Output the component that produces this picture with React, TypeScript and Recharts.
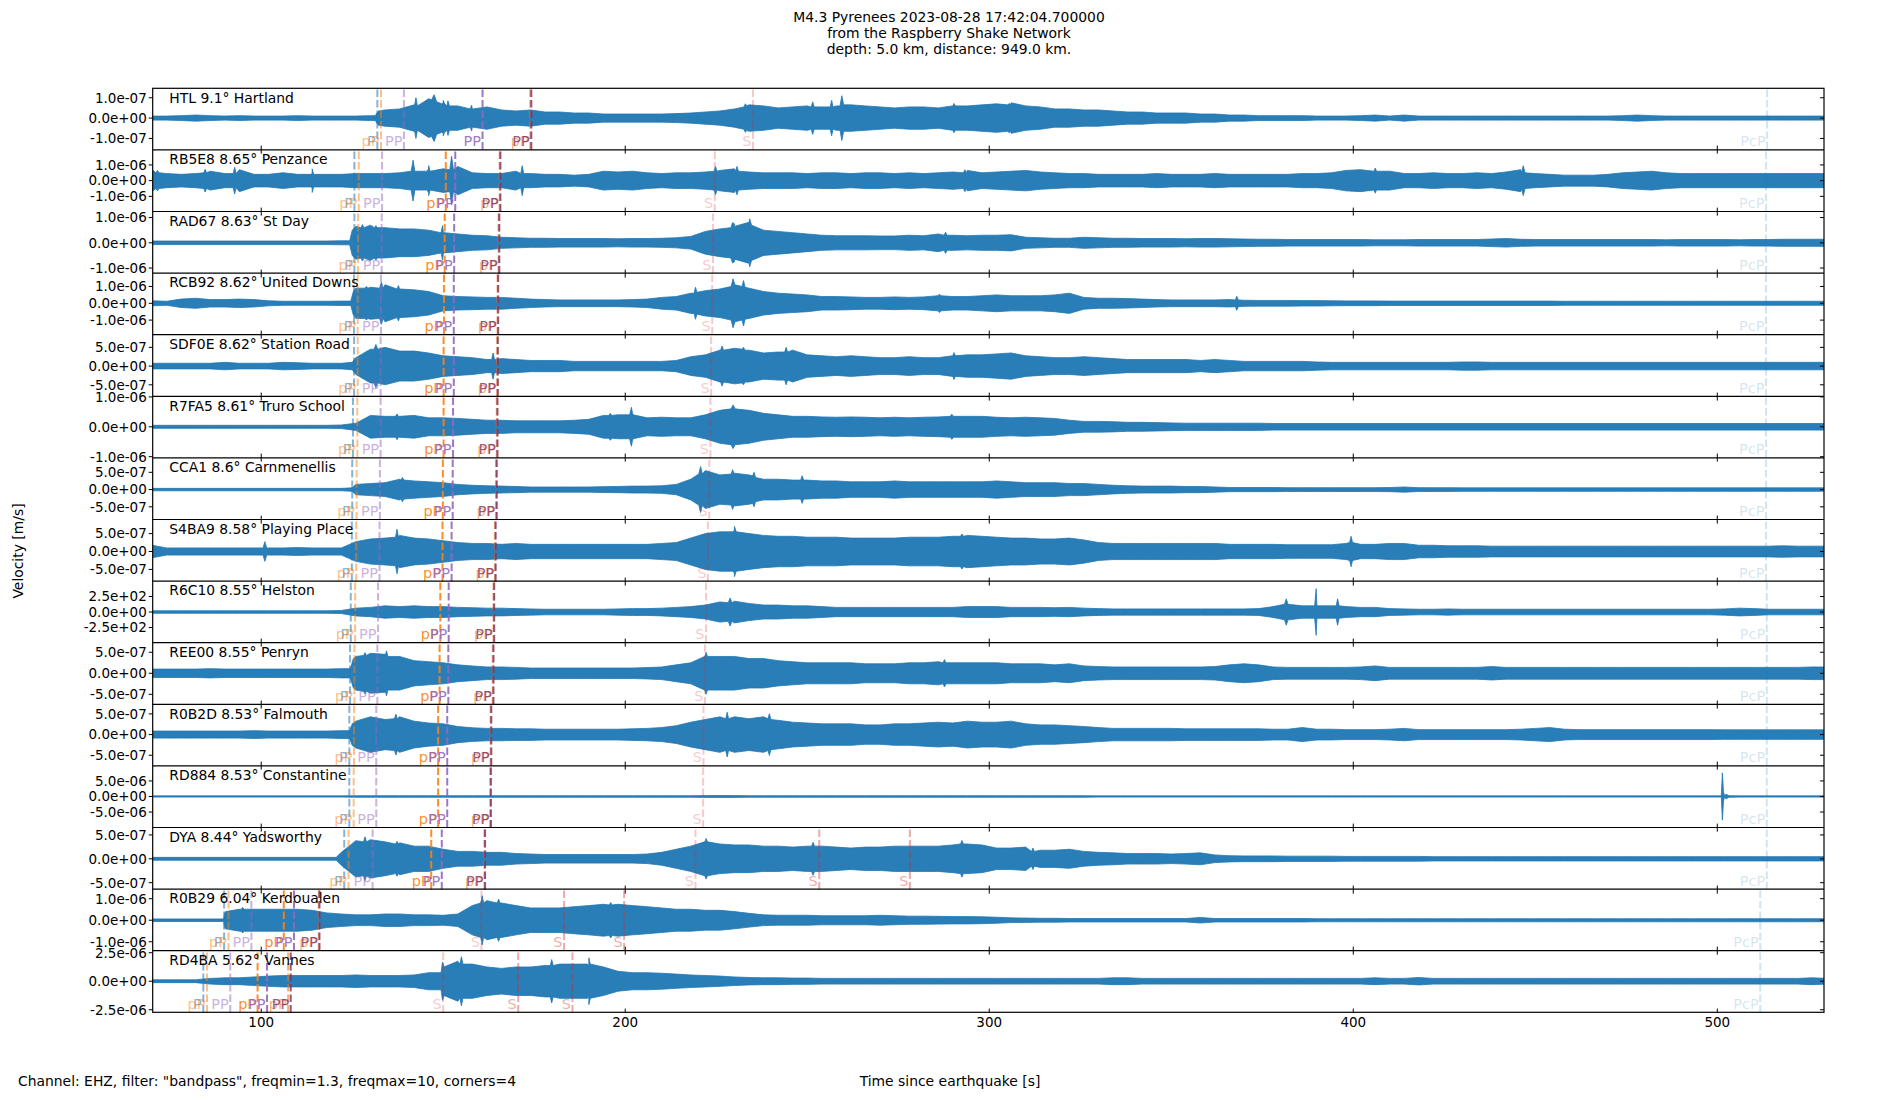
import React from 'react';
import { ComposedChart, Area, XAxis, YAxis, ReferenceLine } from 'recharts';

// time bins (s since origin), one envelope value per bin
const TIMES = [
  70, 74, 78, 82, 86, 90, 94, 98, 102, 106, 110, 114, 118, 122, 126, 130, 134, 138, 142, 146,
  150, 154, 158, 162, 166, 170, 174, 178, 182, 186, 190, 194, 198, 202, 206, 210, 214, 218, 222, 226,
  230, 234, 238, 242, 246, 250, 254, 258, 262, 266, 270, 274, 278, 282, 286, 290, 294, 298, 302, 306,
  310, 314, 318, 322, 326, 330, 334, 338, 342, 346, 350, 354, 358, 362, 366, 370, 374, 378, 382, 386,
  390, 394, 398, 402, 406, 410, 414, 418, 422, 426, 430, 434, 438, 442, 446, 450, 454, 458, 462, 466,
  470, 474, 478, 482, 486, 490, 494, 498, 502, 506, 510, 514, 518, 522, 526, 530,
];

const STATIONS = [
  'HTL 9.1° Hartland', 'RB5E8 8.65° Penzance', 'RAD67 8.63° St Day', 'RCB92 8.62° United Downs',
  'SDF0E 8.62° Station Road', 'R7FA5 8.61° Truro School', 'CCA1 8.6° Carnmenellis',
  'S4BA9 8.58° Playing Place', 'R6C10 8.55° Helston', 'REE00 8.55° Penryn', 'R0B2D 8.53° Falmouth',
  'RD884 8.53° Constantine', 'DYA 8.44° Yadsworthy', 'R0B29 6.04° Kerdoualen', 'RD4BA 5.62° Vannes',
];

const E7 = ['1.0e-07', '0.0e+00', '-1.0e-07'];
const E6 = ['1.0e-06', '0.0e+00', '-1.0e-06'];
const H7 = ['5.0e-07', '0.0e+00', '-5.0e-07'];
const TICK_LABELS = [
  E7, E6, E6, E6, H7, E6, H7, H7, ['2.5e+02', '0.0e+00', '-2.5e+02'], H7, H7,
  ['5.0e-06', '0.0e+00', '-5.0e-06'], H7, E6, ['2.5e-06', '0.0e+00', '-2.5e-06'],
];

// y range of each trace, in units of its tick value
const Y_LIMITS = [
  [-1.55, 1.48], [-1.97, 1.95], [-1.22, 1.22], [-1.86, 1.8], [-1.63, 1.66],
  [-1.03, 1.03], [-1.74, 1.83], [-1.68, 1.76], [-1.97, 2.0], [-1.49, 1.44],
  [-1.5, 1.48], [-2.0, 1.96], [-1.29, 1.29], [-1.41, 1.45], [-1.1, 1.06],
];

const X_DOMAIN = [70.2, 529.3];
const X_TICKS = [100, 200, 300, 400, 500];

// trace envelopes (half peak-to-peak, tick units)
const ENV_HTL = [
  .1, .1, .12, .15, .12, .1, .12, .1, .1, .1,
  .12, .1, .1, .1, .1, .12, .4, .45, .65, .95,
  .75, .6, .45, .55, .4, .35, .4, .3, .3, .25,
  .25, .2, .2, .2, .2, .2, .22, .25, .3, .35,
  .45, .65, .6, .5, .55, .6, .55, .6, .65, .6,
  .55, .5, .55, .55, .5, .6, .6, .65, .7, .75,
  .6, .55, .45, .45, .4, .4, .35, .3, .3, .25,
  .25, .25, .2, .2, .15, .15, .12, .12, .12, .12,
  .1, .1, .1, .12, .15, .1, .15, .1, .1, .1,
  .1, .1, .1, .1, .1, .1, .1, .1, .1, .1,
  .1, .12, .15, .12, .1, .1, .1, .1, .1, .1,
  .1, .1, .1, .1, .1, .1,
];
const ENV_RB5E8 = [
  .7, .45, .4, .45, .6, .45, .7, .4, .4, .5,
  .4, .45, .4, .4, .45, .45, .45, .5, .9, .8,
  .75, .9, .5, .45, .45, .6, .45, .4, .4, .35,
  .4, .6, .55, .6, .5, .45, .5, .5, .55, .65,
  .75, .55, .5, .5, .5, .45, .5, .5, .45, .5,
  .5, .45, .5, .45, .5, .55, .65, .5, .55, .6,
  .65, .55, .5, .45, .45, .4, .4, .4, .4, .45,
  .4, .4, .4, .45, .4, .4, .4, .4, .4, .45,
  .45, .5, .65, .7, .75, .6, .45, .45, .5, .45,
  .45, .5, .45, .55, .7, .45, .4, .35, .35, .35,
  .4, .5, .55, .6, .5, .45, .45, .45, .45, .45,
  .45, .45, .45, .45, .45, .45,
];
const ENV_RAD67 = [
  .07, .07, .07, .07, .07, .07, .07, .07, .07, .07,
  .07, .07, .07, .08, .65, .7, .6, .55, .55, .5,
  .45, .35, .3, .28, .22, .2, .18, .18, .17, .17,
  .17, .17, .16, .17, .17, .18, .2, .25, .45, .55,
  .75, .8, .5, .45, .4, .35, .3, .28, .28, .28,
  .27, .27, .3, .28, .35, .3, .28, .3, .3, .32,
  .22, .2, .18, .18, .22, .2, .18, .18, .17, .17,
  .17, .16, .17, .17, .16, .15, .14, .14, .13, .13,
  .13, .13, .13, .13, .12, .12, .12, .13, .13, .13,
  .13, .13, .15, .17, .14, .13, .13, .13, .13, .13,
  .13, .13, .13, .13, .12, .13, .13, .13, .13, .12,
  .13, .13, .14, .14, .14, .14,
];
const ENV_RCB92 = [
  .15, .12, .25, .3, .22, .22, .25, .22, .15, .12,
  .12, .12, .12, .13, .9, .95, 1.1, .85, .8, .7,
  .45, .4, .38, .35, .35, .3, .25, .22, .2, .2,
  .2, .2, .2, .22, .25, .35, .4, .6, .75, .85,
  1.2, .9, .7, .6, .55, .5, .4, .4, .38, .35,
  .35, .38, .35, .38, .45, .4, .4, .45, .5, .45,
  .45, .45, .5, .6, .35, .3, .3, .28, .25, .22,
  .2, .2, .2, .2, .22, .18, .17, .17, .17, .16,
  .16, .15, .14, .14, .14, .13, .13, .13, .13, .13,
  .13, .13, .13, .13, .13, .13, .13, .12, .12, .12,
  .12, .12, .12, .12, .12, .12, .12, .12, .12, .12,
  .12, .12, .12, .12, .12, .12,
];
const ENV_SDF0E = [
  .15, .15, .15, .15, .15, .2, .15, .15, .15, .2,
  .18, .15, .15, .15, .45, .9, 1.0, .8, .8, .7,
  .55, .5, .45, .35, .4, .35, .3, .3, .3, .25,
  .25, .25, .25, .25, .25, .25, .3, .5, .6, .85,
  .95, .85, .7, .75, .85, .6, .55, .5, .55, .5,
  .45, .45, .5, .45, .45, .55, .6, .6, .65, .7,
  .55, .5, .45, .45, .5, .45, .4, .35, .35, .35,
  .35, .35, .3, .35, .3, .25, .25, .25, .25, .25,
  .22, .2, .2, .2, .2, .2, .2, .2, .2, .2,
  .22, .22, .2, .2, .2, .2, .2, .2, .2, .2,
  .2, .2, .2, .2, .2, .2, .2, .2, .2, .2,
  .2, .2, .2, .2, .2, .2,
];
const ENV_R7FA5 = [
  .05, .05, .05, .05, .05, .05, .05, .05, .05, .05,
  .05, .05, .05, .06, .12, .38, .35, .35, .38, .3,
  .3, .28, .25, .22, .22, .2, .2, .2, .2, .22,
  .25, .38, .4, .45, .3, .32, .3, .3, .4, .55,
  .65, .55, .45, .4, .35, .35, .33, .32, .33, .32,
  .3, .32, .3, .32, .33, .38, .35, .35, .32, .3,
  .32, .3, .28, .22, .18, .18, .17, .15, .15, .14,
  .13, .12, .12, .12, .12, .12, .12, .11, .11, .11,
  .11, .11, .11, .11, .11, .11, .11, .11, .11, .11,
  .11, .11, .11, .11, .11, .11, .11, .11, .11, .11,
  .11, .11, .11, .11, .11, .11, .11, .11, .11, .11,
  .11, .11, .11, .11, .11, .11,
];
const ENV_CCA1 = [
  .07, .07, .07, .07, .07, .07, .07, .07, .07, .07,
  .07, .07, .07, .07, .3, .35, .4, .6, .5, .45,
  .4, .3, .25, .22, .2, .18, .15, .15, .15, .15,
  .15, .17, .18, .2, .2, .22, .3, .6, 1.1, .85,
  .95, .85, .6, .6, .55, .55, .5, .5, .45, .45,
  .45, .5, .45, .45, .45, .45, .45, .45, .5, .45,
  .4, .4, .4, .35, .35, .3, .25, .22, .2, .2,
  .2, .18, .18, .15, .12, .12, .12, .12, .11, .11,
  .11, .11, .11, .11, .11, .12, .15, .11, .11, .11,
  .1, .1, .1, .1, .1, .1, .1, .1, .1, .1,
  .1, .1, .1, .1, .1, .1, .1, .1, .1, .1,
  .1, .1, .1, .1, .1, .1,
];
const ENV_S4BA9 = [
  .35, .2, .2, .2, .2, .2, .2, .2, .2, .2,
  .22, .2, .2, .2, .55, .7, .75, .9, .75, .7,
  .6, .5, .45, .45, .4, .45, .4, .4, .4, .4,
  .4, .4, .4, .4, .4, .45, .5, .75, 1.0, 1.1,
  1.2, 1.0, .9, .85, .85, .8, .8, .8, .75, .75,
  .75, .75, .8, .8, .8, .85, .9, .85, .8, .75,
  .75, .7, .7, .75, .65, .5, .45, .45, .45, .45,
  .45, .45, .45, .45, .4, .4, .4, .4, .38, .38,
  .38, .38, .45, .4, .4, .45, .45, .35, .35, .32,
  .32, .32, .3, .3, .3, .3, .3, .3, .3, .3,
  .3, .3, .3, .3, .3, .3, .3, .3, .3, .3,
  .3, .3, .32, .3, .3, .3,
];
const ENV_R6C10 = [
  .08, .08, .08, .08, .08, .08, .08, .08, .08, .08,
  .08, .08, .08, .1, .25, .3, .4, .35, .4, .35,
  .35, .3, .28, .25, .25, .22, .2, .18, .18, .18,
  .18, .18, .2, .22, .22, .25, .3, .35, .45, .65,
  .7, .55, .45, .45, .4, .4, .35, .3, .3, .3,
  .3, .3, .3, .3, .3, .3, .35, .35, .35, .3,
  .3, .3, .28, .3, .25, .22, .2, .2, .2, .2,
  .2, .2, .2, .2, .2, .2, .22, .35, .55, .4,
  .45, .4, .35, .3, .3, .22, .2, .18, .18, .2,
  .18, .18, .18, .18, .18, .18, .18, .18, .18, .18,
  .18, .18, .18, .18, .18, .18, .18, .18, .2, .25,
  .22, .18, .18, .18, .18, .18,
];
const ENV_REE00 = [
  .2, .2, .2, .2, .22, .2, .2, .2, .2, .2,
  .2, .2, .2, .22, .8, .95, .9, .8, .6, .55,
  .5, .4, .35, .3, .3, .28, .25, .25, .25, .25,
  .25, .25, .25, .25, .27, .3, .4, .5, .85, .8,
  .8, .7, .7, .6, .55, .5, .5, .5, .5, .45,
  .45, .45, .5, .5, .55, .5, .5, .5, .5, .45,
  .45, .45, .4, .45, .35, .32, .3, .3, .3, .3,
  .3, .3, .3, .32, .4, .45, .4, .3, .28, .28,
  .28, .28, .28, .3, .35, .28, .28, .28, .28, .28,
  .28, .28, .32, .28, .28, .28, .28, .28, .28, .28,
  .28, .28, .28, .28, .28, .28, .28, .28, .28, .28,
  .28, .28, .28, .28, .3, .3,
];
const ENV_R0B2D = [
  .17, .17, .17, .17, .17, .17, .17, .19, .17, .17,
  .17, .17, .17, .19, .65, .86, .73, .86, .65, .56,
  .52, .39, .33, .3, .3, .28, .28, .26, .26, .26,
  .26, .26, .26, .28, .3, .34, .43, .6, .73, .86,
  .86, .77, .86, .69, .6, .56, .52, .52, .52, .47,
  .47, .52, .52, .56, .6, .56, .65, .6, .6, .65,
  .52, .47, .47, .43, .39, .34, .3, .3, .3, .3,
  .3, .28, .28, .28, .28, .28, .28, .26, .26, .34,
  .26, .26, .24, .24, .24, .26, .3, .24, .24, .24,
  .24, .24, .24, .24, .26, .3, .34, .26, .24, .24,
  .24, .24, .24, .24, .24, .24, .24, .24, .23, .23,
  .23, .23, .23, .23, .23, .23,
];
const ENV_RD884 = [
  .04, .04, .04, .04, .04, .04, .04, .04, .04, .04,
  .04, .04, .04, .04, .05, .05, .05, .05, .05, .05,
  .05, .05, .05, .05, .05, .05, .05, .05, .05, .05,
  .05, .05, .05, .05, .05, .05, .05, .05, .06, .06,
  .06, .05, .05, .05, .05, .05, .05, .05, .05, .05,
  .05, .05, .05, .05, .05, .05, .05, .05, .05, .05,
  .05, .05, .05, .05, .05, .04, .04, .04, .04, .04,
  .04, .04, .04, .04, .04, .04, .04, .04, .04, .04,
  .04, .04, .04, .04, .04, .04, .04, .04, .04, .04,
  .04, .04, .04, .04, .04, .04, .04, .04, .04, .04,
  .04, .04, .04, .04, .04, .04, .04, .04, .04, .04,
  .04, .04, .04, .04, .04, .04,
];
const ENV_DYA = [
  .06, .06, .06, .06, .06, .06, .06, .06, .06, .06,
  .06, .06, .06, .27, .76, .8, .71, .67, .53, .53,
  .4, .31, .31, .27, .27, .22, .2, .18, .18, .18,
  .18, .18, .18, .18, .2, .27, .4, .53, .76, .62,
  .58, .58, .53, .53, .49, .53, .53, .49, .45, .49,
  .49, .53, .53, .53, .53, .58, .62, .58, .45, .45,
  .49, .36, .36, .4, .31, .27, .25, .22, .22, .22,
  .2, .22, .25, .16, .13, .12, .12, .12, .11, .11,
  .11, .11, .1, .1, .1, .1, .1, .1, .09, .09,
  .09, .09, .09, .09, .09, .09, .09, .09, .09, .09,
  .09, .09, .09, .09, .09, .09, .09, .09, .09, .09,
  .09, .09, .09, .09, .09, .09,
];
const ENV_R0B29 = [
  .06, .06, .06, .06, .06, .34, .51, .51, .51, .51,
  .51, .46, .34, .29, .25, .25, .29, .29, .25, .25,
  .23, .29, .68, .91, .8, .68, .57, .57, .57, .63,
  .68, .74, .74, .68, .63, .57, .51, .51, .46, .46,
  .4, .32, .25, .23, .23, .23, .21, .21, .21, .21,
  .23, .21, .19, .19, .18, .17, .17, .16, .14, .11,
  .1, .09, .09, .08, .08, .08, .08, .08, .08, .08,
  .08, .08, .13, .08, .08, .08, .08, .08, .08, .08,
  .07, .07, .07, .07, .07, .07, .07, .07, .07, .07,
  .07, .07, .07, .07, .07, .07, .07, .07, .07, .07,
  .07, .07, .07, .07, .07, .07, .07, .07, .07, .07,
  .07, .07, .07, .07, .07, .07,
];
const ENV_RD4BA = [
  .05, .05, .05, .05, .1, .12, .12, .15, .18, .2,
  .2, .2, .2, .2, .22, .2, .2, .2, .22, .3,
  .6, .7, .6, .5, .45, .5, .5, .55, .6, .6,
  .55, .5, .35, .3, .3, .28, .25, .22, .2, .18,
  .15, .13, .12, .12, .11, .11, .1, .1, .1, .1,
  .1, .1, .1, .1, .1, .1, .1, .1, .1, .1,
  .1, .1, .1, .1, .1, .1, .12, .12, .1, .1,
  .1, .1, .1, .1, .1, .1, .1, .1, .1, .1,
  .1, .1, .1, .1, .12, .1, .1, .13, .1, .1,
  .1, .1, .1, .1, .1, .1, .1, .1, .1, .1,
  .1, .1, .1, .1, .1, .1, .1, .1, .1, .1,
  .1, .1, .1, .1, .12, .1,
];

const ENVELOPES = [
  ENV_HTL, ENV_RB5E8, ENV_RAD67, ENV_RCB92, ENV_SDF0E, ENV_R7FA5, ENV_CCA1, ENV_S4BA9,
  ENV_R6C10, ENV_REE00, ENV_R0B2D, ENV_RD884, ENV_DYA, ENV_R0B29, ENV_RD4BA,
];

// short bursts read between bins: [time, amplitude]
const SPIKES = [
  [[131.3, .12], [132.2, .35], [142.1, .6], [142.5, 1.0], [142.9, .6], [146.8, .9], [147.5, 1.15], [148.2, .8],
    [149.6, .7], [150.0, .87], [150.4, .7], [151.0, .6], [151.3, .85], [151.7, .6], [157.4, .45], [157.8, .63], [158.2, .45],
    [232.6, .55], [233.0, .7], [233.4, .6], [251.1, .55], [251.5, .8], [251.9, .55], [256.3, .55], [256.7, .87], [257.1, .55],
    [259.0, .6], [259.5, 1.1], [260.0, .65], [289.9, .6], [290.3, .72], [290.7, .6], [305.1, .65], [305.5, .72], [305.9, .65]],
  [[71.1, .5], [71.5, .65], [71.9, .5], [84.2, .5], [84.6, .72], [85.0, .5], [92.3, .45], [92.7, .85], [93.1, .45],
    [113.6, .4], [114.0, .75], [114.4, .4], [141.2, .6], [141.7, 1.3], [142.2, .6], [145.6, .6], [146.0, .95], [146.4, .6],
    [151.8, .7], [152.3, 1.55], [152.8, .7], [171.3, .45], [171.7, .95], [172.1, .45], [224.4, .6], [224.8, .9], [225.2, .6],
    [230.3, .6], [230.7, .9], [231.1, .6], [292.9, .5], [293.3, .7], [293.7, .5], [405.6, .6], [406.0, .8], [406.4, .6],
    [446.2, .5], [446.7, .95], [447.2, .5]],
  [[124.3, .08], [125.0, .5], [127.4, .6], [127.8, .72], [128.2, .6], [131.1, .6], [131.5, .68], [131.9, .6],
    [149.4, .4], [149.8, .68], [150.2, .4], [229.0, .6], [229.5, .8], [230.0, .65], [233.7, .8], [234.2, .95], [234.7, .7],
    [287.6, .3], [288.0, .42], [288.4, .3]],
  [[124.6, .13], [125.3, .7], [128.5, .9], [128.9, 1.0], [129.3, .9], [132.5, .9], [133.0, 1.25], [133.5, .9],
    [137.3, .85], [137.7, 1.05], [138.1, .85], [218.9, .6], [219.3, .95], [219.7, .65], [229.1, 1.0], [229.6, 1.45], [230.1, 1.1],
    [232.1, 1.0], [232.5, 1.35], [232.9, .95], [285.9, .45], [286.3, .55], [286.7, .45], [367.6, .2], [368.0, .42], [368.4, .2]],
  [[125.0, .2], [131.0, .9], [131.5, 1.15], [132.0, .9], [163.3, .35], [163.7, .7], [164.1, .35],
    [226.2, .85], [226.6, 1.07], [227.0, .85], [232.1, .9], [232.5, 1.0], [232.9, .85], [243.8, .75], [244.2, 1.0], [244.6, .75],
    [289.9, .55], [290.3, .72], [290.7, .55]],
  [[136.9, .35], [137.3, .43], [137.7, .35], [195.5, .38], [195.9, .45], [196.3, .38], [201.2, .4], [201.7, .65], [202.2, .4],
    [229.1, .6], [229.6, .73], [230.1, .6], [289.3, .35], [289.7, .42], [290.1, .35]],
  [[125.0, .1], [138.4, .55], [138.8, .7], [139.2, .55], [220.2, .9], [220.7, 1.33], [221.2, .9],
    [229.1, .9], [229.5, 1.15], [229.9, .9], [235.0, .8], [235.4, 1.0], [235.8, .7], [248.2, .55], [248.6, .8], [249.0, .55]],
  [[100.5, .2], [101.0, .55], [101.5, .2], [136.9, .8], [137.3, 1.24], [137.7, .8], [229.5, 1.1], [230.0, 1.4], [230.5, 1.1],
    [292.1, .85], [292.5, .98], [292.9, .85], [399.0, .5], [399.4, .85], [399.8, .5]],
  [[228.3, .6], [228.8, .9], [229.3, .6], [381.1, .5], [381.6, .85], [382.1, .5], [389.4, .4], [389.8, 1.5], [390.2, .4],
    [395.3, .4], [395.7, .85], [396.1, .4]],
  [[124.5, .22], [125.3, .7], [128.1, .85], [128.5, .98], [128.9, .85], [134.0, .8], [134.4, 1.07], [134.8, .8],
    [221.8, .8], [222.2, 1.0], [222.6, .8], [287.3, .5], [287.7, .65], [288.1, .5]],
  [[124.3, .19], [125.0, .52], [136.6, .77], [137.0, .99], [137.4, .77], [227.6, .77], [228.0, 1.08], [228.4, .77],
    [239.2, .77], [239.6, 1.01], [240.0, .73]],
  [[501.1, .04], [501.4, 1.52], [501.7, .3], [502.4, .15], [503.2, .05]],
  [[120.6, .06], [128.1, .71], [128.5, .92], [128.9, .71], [136.9, .62], [137.3, .73], [137.7, .62],
    [221.8, .71], [222.2, .85], [222.6, .71], [251.2, .53], [251.6, .69], [252.0, .53], [292.1, .62], [292.5, .77], [292.9, .62],
    [311.6, .31], [312.0, .45], [312.4, .31]],
  [[89.7, .06], [90.2, .4], [94.5, .51], [94.9, .59], [95.3, .51], [160.3, .8], [160.7, 1.14], [161.1, .8],
    [164.8, .8], [165.2, .98], [165.6, .8], [195.6, .71], [196.0, .82], [196.4, .71]],
  [[149.4, .3], [149.8, .67], [150.2, .5], [154.6, .6], [155.0, .86], [155.4, .6], [179.4, .55], [179.8, .76], [180.2, .55],
    [189.6, .6], [190.0, .82], [190.4, .6]],
];

// predicted arrivals: [phase, time, branch]
const ARRIVALS: [string, number, number][][] = [
  [['P', 131.9, 1], ['pP', 132.9, 1], ['PP', 139.2, 1], ['PP', 160.8, 2], ['pP', 173.9, 3], ['PP', 174.2, 3], ['S', 235.1, 1], ['PcP', 513.7, 1]],
  [['P', 125.6, 1], ['pP', 126.8, 1], ['PP', 133.2, 1], ['pP', 150.7, 2], ['PP', 153.3, 2], ['pP', 165.5, 3], ['PP', 165.7, 3], ['S', 224.6, 1], ['PcP', 513.4, 1]],
  [['P', 125.6, 1], ['pP', 126.6, 1], ['PP', 133.1, 1], ['pP', 150.4, 2], ['PP', 153.0, 2], ['pP', 165.2, 3], ['PP', 165.4, 3], ['S', 224.1, 1], ['PcP', 513.4, 1]],
  [['P', 125.5, 1], ['pP', 126.5, 1], ['PP', 132.9, 1], ['pP', 150.2, 2], ['PP', 152.9, 2], ['pP', 164.9, 3], ['PP', 165.1, 3], ['S', 223.9, 1], ['PcP', 513.4, 1]],
  [['P', 125.5, 1], ['pP', 126.5, 1], ['PP', 132.8, 1], ['pP', 150.1, 2], ['PP', 152.9, 2], ['pP', 164.8, 3], ['PP', 165.0, 3], ['S', 223.6, 1], ['PcP', 513.4, 1]],
  [['P', 125.2, 1], ['pP', 126.4, 1], ['PP', 132.8, 1], ['pP', 150.1, 2], ['PP', 152.7, 2], ['pP', 164.7, 3], ['PP', 164.9, 3], ['S', 223.4, 1], ['PcP', 513.4, 1]],
  [['P', 125.0, 1], ['pP', 126.2, 1], ['PP', 132.6, 1], ['pP', 149.9, 2], ['PP', 152.6, 2], ['pP', 164.5, 3], ['PP', 164.7, 3], ['S', 223.1, 1], ['PcP', 513.4, 1]],
  [['P', 124.9, 1], ['pP', 126.1, 1], ['PP', 132.5, 1], ['pP', 149.8, 2], ['PP', 152.3, 2], ['pP', 164.2, 3], ['PP', 164.4, 3], ['S', 222.7, 1], ['PcP', 513.4, 1]],
  [['P', 124.6, 1], ['pP', 125.8, 1], ['PP', 132.1, 1], ['pP', 149.2, 2], ['PP', 151.5, 2], ['pP', 163.8, 3], ['PP', 164.0, 3], ['S', 222.2, 1], ['PcP', 513.6, 1]],
  [['P', 124.4, 1], ['pP', 125.6, 1], ['PP', 131.9, 1], ['pP', 149.0, 2], ['PP', 151.4, 2], ['pP', 163.6, 3], ['PP', 163.8, 3], ['S', 221.9, 1], ['PcP', 513.6, 1]],
  [['P', 124.2, 1], ['pP', 125.5, 1], ['PP', 131.6, 1], ['pP', 148.6, 2], ['PP', 151.1, 2], ['pP', 163.0, 3], ['PP', 163.2, 3], ['S', 221.5, 1], ['PcP', 513.6, 1]],
  [['P', 124.2, 1], ['pP', 125.4, 1], ['PP', 131.6, 1], ['pP', 148.6, 2], ['PP', 151.1, 2], ['pP', 162.9, 3], ['PP', 163.1, 3], ['S', 221.4, 1], ['PcP', 513.6, 1]],
  [['P', 122.8, 1], ['pP', 124.0, 1], ['PP', 130.6, 1], ['pP', 146.7, 2], ['PP', 149.6, 2], ['pP', 161.3, 3], ['PP', 161.5, 3], ['S', 219.3, 1], ['S', 253.3, 2], ['S', 278.2, 2], ['PcP', 513.6, 1]],
  [['P', 89.8, 1], ['pP', 91.0, 1], ['PP', 97.3, 1], ['pP', 106.2, 2], ['PP', 109.0, 2], ['pP', 115.8, 3], ['PP', 116.0, 3], ['S', 160.5, 1], ['S', 183.2, 2], ['S', 199.7, 2], ['PcP', 511.8, 1]],
  [['P', 84.1, 1], ['pP', 85.1, 1], ['PP', 91.5, 1], ['pP', 99.0, 2], ['PP', 101.6, 2], ['pP', 107.4, 3], ['PP', 108.1, 3], ['S', 150.0, 1], ['S', 170.6, 2], ['S', 185.5, 2], ['PcP', 511.8, 1]],
];

const PHASE_STYLE: Record<string, [string, number][]> = {
  P: [['#1f77b4', 0.55]],
  pP: [['#ff7f0e', 0.5], ['#ff7f0e', 0.9], ['#f07a18', 0.6]],
  PP: [['#9467bd', 0.5], ['#9467bd', 0.9], ['#7d2d5f', 0.8]],
  S: [['#d62728', 0.25], ['#d62728', 0.4]],
  PcP: [['#1f77b4', 0.2]],
};

const FONT = '"DejaVu Sans", sans-serif';
const TRACE = '#1f77b4';
const PLOT_L = 152.7;
const PLOT_R = 1824;
const TOP0 = 88.3;
const PANEL_H = 61.6;
const MARGIN_TOP = 10;
const XAXIS_H = 24;

function buildSeries(env: number[], spikes: number[][]) {
  const pts = TIMES.map((t, k) => [t, env[k]]);
  spikes.forEach((s) => pts.push(s));
  pts.sort((a, b) => a[0] - b[0]);
  return pts.map(([t, a]) => ({ t, band: [-a, a] }));
}

const renderYTick = (labels: string[]) => (props: any) => {
  const { y, payload } = props;
  const idx = payload.value > 0 ? 0 : payload.value < 0 ? 2 : 1;
  return (
    <g>
      <line x1={PLOT_L - 4} x2={PLOT_L} y1={y} y2={y} stroke="#000" strokeWidth={1} />
      <line x1={PLOT_R - 4} x2={PLOT_R} y1={y} y2={y} stroke="#000" strokeWidth={1} />
      <text x={PLOT_L - 6} y={y} dy="0.36em" textAnchor="end" fontSize={13.5} fontFamily={FONT} fill="#000">
        {labels[idx]}
      </text>
    </g>
  );
};

const renderXTick = (last: boolean) => (props: any) => {
  const { x, payload } = props;
  const yb = MARGIN_TOP + PANEL_H;
  return (
    <g>
      <line x1={x} x2={x} y1={yb - 4} y2={last ? yb : yb + 4} stroke="#000" strokeWidth={1} />
      {last && (
        <text x={x} y={yb + 14} textAnchor="middle" fontSize={13.5} fontFamily={FONT} fill="#000">
          {payload.value}
        </text>
      )}
    </g>
  );
};

const phaseShape = (label: string, color: string, alpha: number) => (p: any) => {
  const x = p.x1;
  const yTop = Math.min(p.y1, p.y2);
  const yBot = Math.max(p.y1, p.y2);
  return (
    <g>
      <line x1={x} x2={x} y1={yBot} y2={yTop} stroke={color} strokeOpacity={alpha} strokeWidth={2} strokeDasharray="7.5 3" />
      <text x={x - 1.5} y={yBot - 3.5} textAnchor="end" fontSize={14.5} fontFamily={FONT} fill={color} fillOpacity={alpha}>
        {label}
      </text>
    </g>
  );
};

function Panel({ index }: { index: number }) {
  const data = buildSeries(ENVELOPES[index], SPIKES[index]);
  const last = index === STATIONS.length - 1;
  return (
    <div style={{ position: 'absolute', left: 0, top: TOP0 + index * PANEL_H - MARGIN_TOP }}>
      <ComposedChart
        width={PLOT_R}
        height={MARGIN_TOP + PANEL_H + XAXIS_H}
        data={data}
        margin={{ top: MARGIN_TOP, right: 0, bottom: 0, left: 0 }}
      >
        <XAxis
          type="number"
          dataKey="t"
          domain={X_DOMAIN}
          ticks={X_TICKS}
          interval={0}
          allowDataOverflow
          axisLine={false}
          tickLine={false}
          tickSize={0}
          tickMargin={0}
          height={XAXIS_H}
          tick={renderXTick(last)}
        />
        <YAxis
          type="number"
          domain={Y_LIMITS[index]}
          ticks={[-1, 0, 1]}
          interval={0}
          allowDataOverflow
          axisLine={false}
          tickLine={false}
          tickSize={0}
          tickMargin={0}
          width={PLOT_L}
          tick={renderYTick(TICK_LABELS[index])}
        />
        <Area
          type="linear"
          dataKey="band"
          stroke={TRACE}
          strokeWidth={0.8}
          fill={TRACE}
          fillOpacity={0.95}
          dot={false}
          activeDot={false}
          isAnimationActive={false}
        />
        {ARRIVALS[index].map(([phase, time, branch], k) => {
          const styles = PHASE_STYLE[phase];
          const [color, alpha] = styles[Math.min(branch, styles.length) - 1];
          return <ReferenceLine key={k} x={time} shape={phaseShape(phase, color, alpha)} />;
        })}
      </ComposedChart>
    </div>
  );
}

export default function App() {
  const bottom = TOP0 + STATIONS.length * PANEL_H;
  return (
    <div style={{ position: 'absolute', left: 0, top: 0, width: 1900, height: 1100, background: '#fff', fontFamily: FONT }}>
      {STATIONS.map((name, i) => (
        <Panel key={name} index={i} />
      ))}
      <svg width={1900} height={1100} style={{ position: 'absolute', left: 0, top: 0, pointerEvents: 'none' }}>
        <rect x={PLOT_L} y={TOP0} width={PLOT_R - PLOT_L} height={bottom - TOP0} fill="none" stroke="#000" strokeWidth={1.2} />
        {STATIONS.slice(1).map((name, i) => (
          <line key={name} x1={PLOT_L} x2={PLOT_R} y1={TOP0 + (i + 1) * PANEL_H} y2={TOP0 + (i + 1) * PANEL_H} stroke="#000" strokeWidth={1.2} />
        ))}
        {STATIONS.map((name, i) => (
          <text key={name} x={PLOT_L + 16.6} y={TOP0 + i * PANEL_H + 14.3} fontSize={13.9} fontFamily={FONT} fill="#000">
            {name}
          </text>
        ))}
        <g fontSize={13.9} fontFamily={FONT} fill="#000" textAnchor="middle">
          <text x={949} y={22}>M4.3 Pyrenees 2023-08-28 17:42:04.700000</text>
          <text x={949} y={37.8}>from the Raspberry Shake Network</text>
          <text x={949} y={53.6}>depth: 5.0 km, distance: 949.0 km.</text>
        </g>
        <text x={18} y={551} transform="rotate(-90, 18, 551)" textAnchor="middle" dy="0.35em" fontSize={13.9} fontFamily={FONT}>
          Velocity [m/s]
        </text>
        <text x={18} y={1086} fontSize={13.9} fontFamily={FONT}>
          Channel: EHZ, filter: "bandpass", freqmin=1.3, freqmax=10, corners=4
        </text>
        <text x={950} y={1086} textAnchor="middle" fontSize={13.9} fontFamily={FONT}>
          Time since earthquake [s]
        </text>
      </svg>
    </div>
  );
}
